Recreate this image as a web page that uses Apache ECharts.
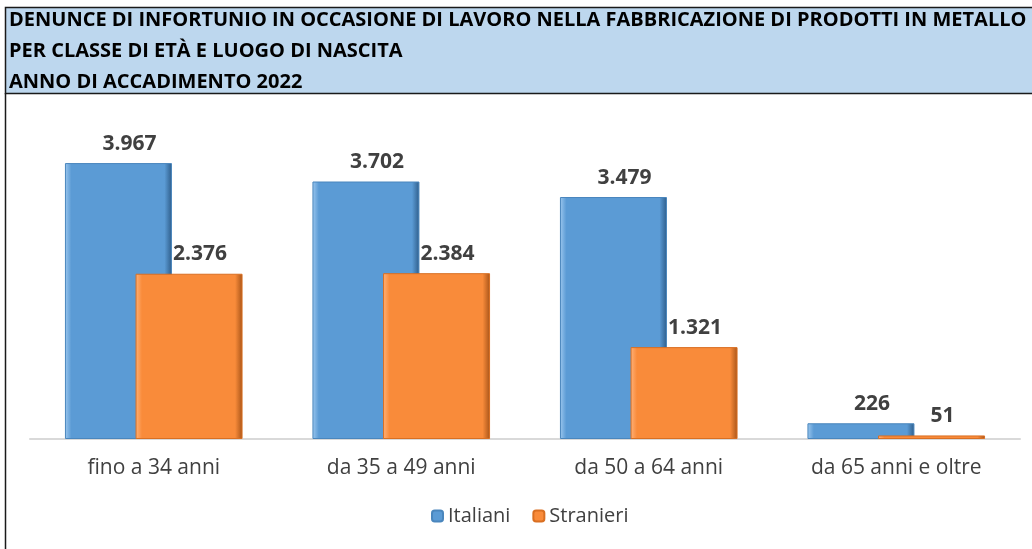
<!DOCTYPE html>
<html>
<head>
<meta charset="UTF-8">
<title></title>
<script src="https://cdn.jsdelivr.net/npm/echarts@6/dist/echarts.min.js"></script>
<style type="text/css">
	html, body { margin: 0; padding: 0; background: #fff; }
	#chart { width: 1032px; height: 549px; }
</style>
</head>
<body>
<div id="chart"></div>
<script type="text/javascript">
var categories = ['fino a 34 anni', 'da 35 a 49 anni', 'da 50 a 64 anni', 'da 65 anni e oltre'];
var italiani = [3967, 3702, 3479, 226];
var stranieri = [2376, 2384, 1321, 51];
var titleLines = [
	'DENUNCE DI INFORTUNIO IN OCCASIONE DI LAVORO NELLA FABBRICAZIONE DI PRODOTTI IN METALLO',
	'PER CLASSE DI ETÀ E LUOGO DI NASCITA',
	'ANNO DI ACCADIMENTO 2022'
];

var font = '"Open Sans", "Noto Sans", sans-serif';

function fmt(v) {
	return String(v).replace(/\B(?=(\d{3})+(?!\d))/g, '.');
}

function bevel(light, base, dark) {
	return new echarts.graphic.LinearGradient(0, 0, 1, 0, [
		{ offset: 0, color: light },
		{ offset: 0.06, color: base },
		{ offset: 0.93, color: base },
		{ offset: 1, color: dark }
	]);
}

var labelStyle = {
	show: true,
	position: 'top',
	distance: 9,
	offset: [11, 0],
	fontFamily: font,
	fontWeight: 'bold',
	fontSize: 21,
	color: '#404040',
	formatter: function (p) { return fmt(p.value); }
};

var myChart = echarts.init(document.getElementById('chart'));
myChart.setOption({
	animation: false,
	graphic: [
		{
			type: 'rect',
			shape: { x: 5.5, y: 7.5, width: 1040, height: 86 },
			style: { fill: '#BDD7EE', stroke: '#1a1a1a', lineWidth: 1.5 }
		},
		{
			type: 'line',
			shape: { x1: 5.5, y1: 93, x2: 5.5, y2: 549 },
			style: { stroke: '#1a1a1a', lineWidth: 1.5 }
		},
		{
			type: 'text',
			left: 9,
			top: 5,
			style: {
				text: titleLines.join('\n'),
				font: 'bold 20px ' + font,
				lineHeight: 31,
				fill: '#000'
			}
		}
	],
	legend: {
		bottom: 18,
		left: 426,
		itemWidth: 11,
		itemHeight: 11,
		itemGap: 22,
		textStyle: { fontFamily: font, fontSize: 20, color: '#404040' },
		data: ['Italiani', 'Stranieri']
	},
	grid: { left: 30, right: 12, top: 126, bottom: 110 },
	xAxis: {
		type: 'category',
		data: categories,
		axisTick: { show: false },
		axisLine: { lineStyle: { color: '#d9d9d9', width: 2 } },
		axisLabel: { fontFamily: font, fontSize: 21, color: '#404040', margin: 19 }
	},
	yAxis: {
		type: 'value',
		min: 0,
		max: 4500,
		show: false,
		splitLine: { show: false }
	},
	series: [
		{
			name: 'Italiani',
			type: 'bar',
			data: italiani,
			barWidth: 107,
			barGap: '-34%',
			itemStyle: {
				color: bevel('#9cc7ee', '#5B9BD5', '#2e5d8a'),
				borderColor: '#4a86bd',
				borderWidth: 1
			},
			label: labelStyle,
			z: 2
		},
		{
			name: 'Stranieri',
			type: 'bar',
			data: stranieri,
			barWidth: 107,
			itemStyle: {
				color: bevel('#ffb27a', '#F98B3A', '#a85418'),
				borderColor: '#d96f22',
				borderWidth: 1
			},
			label: labelStyle,
			z: 3
		}
	]
});
</script>
</body>
</html>
